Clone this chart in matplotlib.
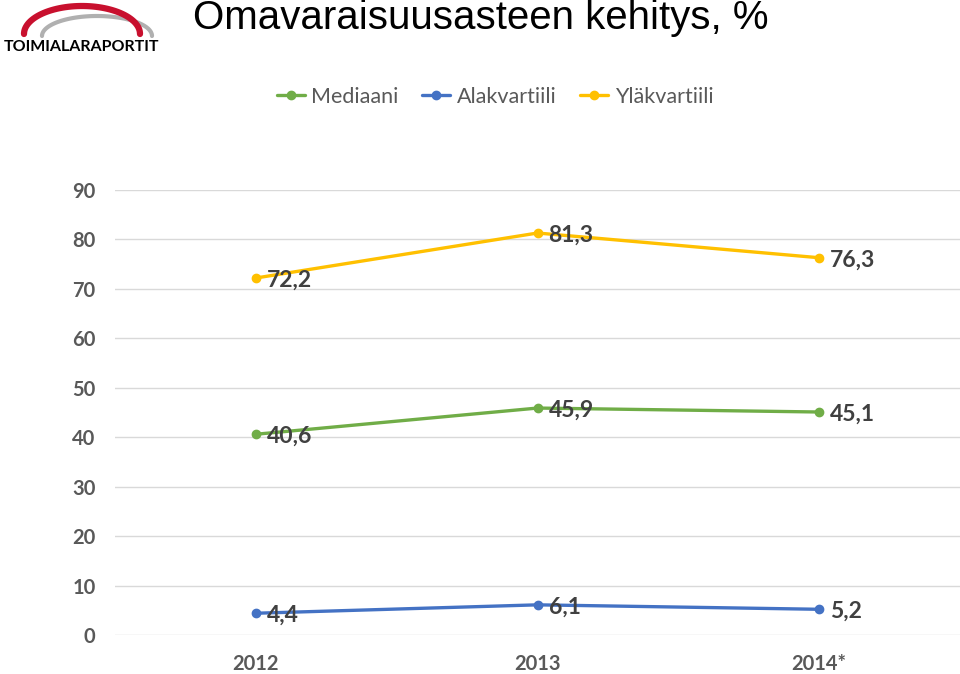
import matplotlib
matplotlib.use("Agg")
import matplotlib.pyplot as plt
import numpy as np

categories = ["2012", "2013", "2014*"]
mediaani = [40.6, 45.9, 45.1]
alakvartiili = [4.4, 6.1, 5.2]
ylakvartiili = [72.2, 81.3, 76.3]
series_names = ["Mediaani", "Alakvartiili", "Yläkvartiili"]
yticks = [0, 10, 20, 30, 40, 50, 60, 70, 80, 90]
title = "Omavaraisuusasteen kehitys, %"

colors = ["#70AD47", "#4472C4", "#FFC000"]
font = ["Lato", "DejaVu Sans"]

fig = plt.figure(figsize=(9.6, 6.74), dpi=100)
ax = fig.add_axes([115/960, 39/674, 845/960, 445/674])

x = np.arange(len(categories))
for name, vals, c in zip(series_names, [mediaani, alakvartiili, ylakvartiili], colors):
    ax.plot(x, vals, color=c, lw=2.4, marker="o", ms=6, label=name, solid_capstyle="round")
    for xi, v in zip(x, vals):
        ax.annotate(f"{v:.1f}".replace(".", ","), (xi, v), xytext=(8, -1.5),
                    textcoords="offset points", ha="left", va="center",
                    fontsize=16.5, color="#404040", fontweight="bold", family=font)

ax.set_xlim(-0.5, 2.5)
ax.set_ylim(0, 90)
ax.set_yticks(yticks)
ax.set_xticks(x)
ax.set_xticklabels(categories)
ax.grid(axis="y", color="#D9D9D9", lw=1)
ax.set_axisbelow(True)
for s in ax.spines.values():
    s.set_visible(False)
ax.tick_params(length=0, labelsize=14.5, labelcolor="#595959")
ax.tick_params(axis="y", pad=14)
ax.tick_params(axis="x", pad=14)
for lab in ax.get_xticklabels() + ax.get_yticklabels():
    lab.set_family(font)
    lab.set_fontweight("bold")

leg = fig.legend(loc="center", bbox_to_anchor=(495/960, 1 - 97/674), ncol=3, frameon=False,
                 prop={"family": font, "size": 15.5}, labelcolor="#595959",
                 handlelength=1.3, columnspacing=1.1, handletextpad=0.3)

fig.text(193/960, 1 - 18/674, title, fontsize=29, family=["Liberation Sans", "DejaVu Sans"],
         ha="left", va="center", color="black")

# logo
lax = fig.add_axes([0, 1 - 60/674, 170/960, 60/674])
lax.set_xlim(0, 170)
lax.set_ylim(60, 0)
lax.axis("off")
t = np.linspace(np.pi, 2 * np.pi, 60)
lax.plot(97 + 55 * np.cos(t), 36 + 20 * np.sin(t), color="#B0B0B0", lw=3, solid_capstyle="round")
lax.plot(82 + 58 * np.cos(t), 34 + 28 * np.sin(t), color="#C8102E", lw=4.5, solid_capstyle="round")
lax.text(82, 47, "TOIMIALARAPORTIT", ha="center", va="center", fontsize=11.5,
         fontweight="bold", family=font, color="black")

fig.savefig("out.png", dpi=100)
